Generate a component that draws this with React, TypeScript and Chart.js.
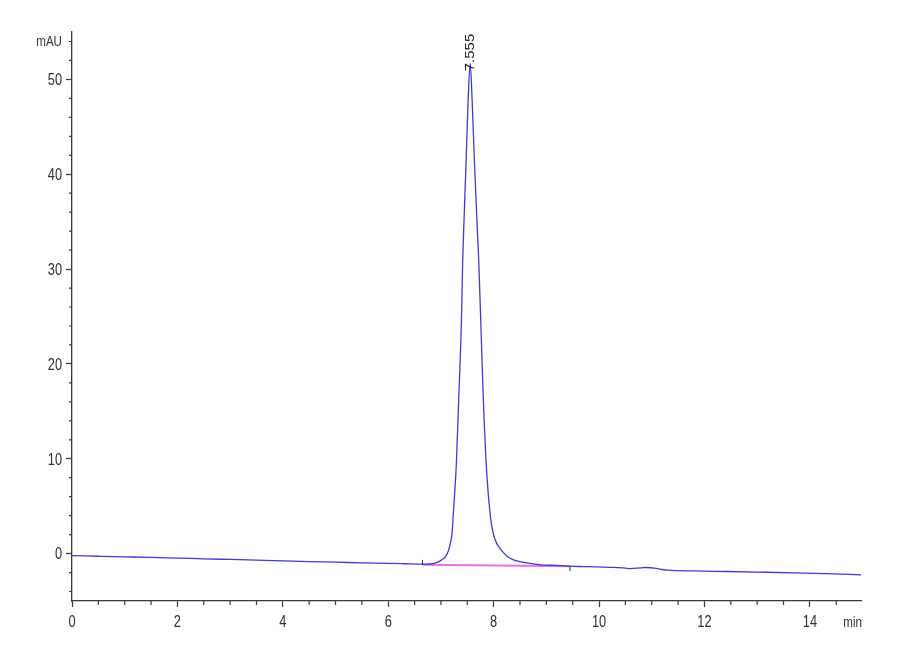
import React, { useRef, useEffect } from 'react';
import { Chart, type ChartConfiguration, type Plugin, registerables } from 'chart.js';

Chart.register(...registerables);

// Retention time (min) and detector signal (mAU)
const retentionTimes = [
  0.0, 0.5, 1.0, 1.5, 2.0, 2.5, 3.0, 3.5, 4.0, 4.5, 5.0, 5.5, 6.0, 6.3, 6.64, 6.8,
  6.9, 6.97, 7.03, 7.085, 7.148, 7.18, 7.212, 7.231, 7.26, 7.29, 7.337, 7.389, 7.413,
  7.44, 7.478, 7.516, 7.555, 7.592, 7.635, 7.68, 7.717, 7.755, 7.805, 7.862, 7.939,
  7.99, 8.053, 8.12, 8.191, 8.26, 8.375, 8.5, 8.635, 8.89, 9.1, 9.27, 9.45, 9.7,
  9.91, 10.2, 10.5, 10.58, 10.66, 10.8, 10.92, 11.05, 11.2, 11.3, 11.8, 12.44, 13.0,
  13.7, 14.3, 14.97
];
const signalMAU = [
  -0.22, -0.28, -0.34, -0.4, -0.47, -0.55, -0.62, -0.69, -0.77, -0.85, -0.91, -0.98,
  -1.03, -1.07, -1.12, -1.1, -0.98, -0.82, -0.6, -0.32, 0.39, 1.13, 2.18, 3.89, 6.3,
  9.16, 16.2, 24.6, 30.9, 35.5, 41.4, 47.8, 51.7, 47.8, 41.4, 35.5, 30.9, 24.6, 16.2,
  9.16, 3.89, 2.18, 1.13, 0.55, 0.07, -0.3, -0.66, -0.85, -0.98, -1.19, -1.23, -1.27,
  -1.33, -1.37, -1.4, -1.45, -1.53, -1.59, -1.55, -1.5, -1.47, -1.53, -1.68, -1.75,
  -1.83, -1.89, -1.95, -2.03, -2.12, -2.24
];

// Integration baseline (start / end of the integrated peak)
const integrationTimes = [6.65, 9.45];
const integrationLevels = [-1.19, -1.33];

// Peak annotation
const peakTimes = [7.555];
const peakHeights = [51.7];
const peakLabels = ['7.555'];

// Axis ticks
const xMajorTicks = [0, 2, 4, 6, 8, 10, 12, 14];
const xTickLabels = ['0', '2', '4', '6', '8', '10', '12', '14'];
const xMinorTicks = [
  0.5, 1, 1.5, 2.5, 3, 3.5, 4.5, 5, 5.5, 6.5, 7, 7.5, 8.5, 9, 9.5, 10.5, 11, 11.5,
  12.5, 13, 13.5, 14.5
];
const yMajorTicks = [0, 10, 20, 30, 40, 50];
const yTickLabels = ['0', '10', '20', '30', '40', '50'];
const yMinorTicks = [
  -4, -2, 2, 4, 6, 8, 12, 14, 16, 18, 22, 24, 26, 28, 32, 34, 36, 38, 42, 44, 46, 48,
  52, 54
];
const xUnit = 'min';
const yUnit = 'mAU';

const axisColor = '#3a3a3a';
const textColor = '#303030';
const fontFamily = '"Liberation Sans", Arial, sans-serif';
// the reference text is drawn squeezed sideways
const squeeze = 0.8;

const drawSqueezed = (
  ctx: CanvasRenderingContext2D,
  text: string,
  x: number,
  y: number,
  align: CanvasTextAlign
) => {
  ctx.save();
  ctx.translate(x, y);
  ctx.scale(squeeze, 1);
  ctx.textAlign = align;
  ctx.fillText(text, 0, 0);
  ctx.restore();
};

const annotationPlugin: Plugin<'line'> = {
  id: 'chromAnnotations',
  afterDraw(chart) {
    const { ctx } = chart;
    const x = chart.scales.x;
    const y = chart.scales.y;
    ctx.save();

    // minor ticks
    ctx.strokeStyle = axisColor;
    ctx.lineWidth = 1.2;
    ctx.beginPath();
    xMinorTicks.forEach((v) => {
      const px = x.getPixelForValue(v);
      ctx.moveTo(px, y.bottom);
      ctx.lineTo(px, y.bottom + 4);
    });
    yMinorTicks.forEach((v) => {
      const py = y.getPixelForValue(v);
      ctx.moveTo(x.left, py);
      ctx.lineTo(x.left - 3, py);
    });
    ctx.stroke();

    // integration event marks: start points up, end points down
    ctx.lineWidth = 1;
    ctx.beginPath();
    integrationTimes.forEach((t, i) => {
      const px = x.getPixelForValue(t);
      const py = y.getPixelForValue(integrationLevels[i]);
      const dir = i === 0 ? -1 : 1;
      ctx.moveTo(px, py);
      ctx.lineTo(px, py + dir * 5);
    });
    ctx.stroke();

    // tick labels
    ctx.fillStyle = textColor;
    ctx.font = `16px ${fontFamily}`;
    ctx.textBaseline = 'alphabetic';
    xMajorTicks.forEach((v, i) => {
      drawSqueezed(ctx, xTickLabels[i], x.getPixelForValue(v), y.bottom + 26, 'center');
    });
    yMajorTicks.forEach((v, i) => {
      drawSqueezed(ctx, yTickLabels[i], x.left - 10, y.getPixelForValue(v) + 5.8, 'right');
    });

    // unit labels
    ctx.font = `14.5px ${fontFamily}`;
    drawSqueezed(ctx, yUnit, x.left - 10, y.getPixelForValue(54) + 5, 'right');
    drawSqueezed(ctx, xUnit, x.right + 1, y.bottom + 26, 'right');

    // peak retention time labels, rotated
    ctx.fillStyle = '#222';
    ctx.font = `15px ${fontFamily}`;
    ctx.textAlign = 'left';
    ctx.textBaseline = 'middle';
    peakTimes.forEach((t, i) => {
      const px = x.getPixelForValue(t);
      const py = y.getPixelForValue(peakHeights[i]) + 8;
      ctx.save();
      ctx.translate(px, py);
      ctx.scale(0.8, 1);
      ctx.rotate(-Math.PI / 2);
      ctx.fillText(peakLabels[i], 0, 0);
      ctx.restore();
    });

    ctx.restore();
  }
};

const Chromatogram: React.FC = () => {
  const canvasRef = useRef<HTMLCanvasElement>(null);

  useEffect(() => {
    document.body.style.margin = '0';
    if (!canvasRef.current) return;

    const config: ChartConfiguration<'line'> = {
      type: 'line',
      data: {
        datasets: [
          {
            data: retentionTimes.map((t, i) => ({ x: t, y: signalMAU[i] })),
            borderColor: '#3b3bd6',
            borderWidth: 1.3,
            pointRadius: 0,
            cubicInterpolationMode: 'monotone',
            order: 0
          },
          {
            data: integrationTimes.map((t, i) => ({ x: t, y: integrationLevels[i] })),
            borderColor: 'rgba(240, 90, 235, 0.9)',
            borderWidth: 2,
            pointRadius: 0,
            order: 1
          }
        ]
      },
      options: {
        responsive: true,
        maintainAspectRatio: false,
        animation: false,
        layout: { padding: { top: 32, right: 39, left: 0, bottom: 0 } },
        plugins: {
          legend: { display: false },
          tooltip: { enabled: false }
        },
        scales: {
          x: {
            type: 'linear',
            min: 0,
            max: 14.97,
            afterBuildTicks: (scale) => {
              scale.ticks = xMajorTicks.map((value) => ({ value }));
            },
            afterFit: (scale) => {
              scale.height = 59;
            },
            ticks: { display: false, autoSkip: false },
            grid: {
              drawOnChartArea: false,
              drawTicks: true,
              tickLength: 6,
              tickColor: axisColor,
              tickWidth: 1.2
            },
            border: { color: axisColor, width: 1.3 }
          },
          y: {
            type: 'linear',
            min: -5,
            max: 55,
            afterBuildTicks: (scale) => {
              scale.ticks = yMajorTicks.map((value) => ({ value }));
            },
            afterFit: (scale) => {
              scale.width = 72;
            },
            ticks: { display: false, autoSkip: false },
            grid: {
              drawOnChartArea: false,
              drawTicks: true,
              tickLength: 6,
              tickColor: axisColor,
              tickWidth: 1.2
            },
            border: { color: axisColor, width: 1.3 }
          }
        }
      },
      plugins: [annotationPlugin]
    };

    const chart = new Chart(canvasRef.current, config);
    return () => chart.destroy();
  }, []);

  return (
    <div style={{ position: 'relative', width: 900, height: 660, background: '#fff' }}>
      <canvas ref={canvasRef} />
    </div>
  );
};

export default function App() {
  return <Chromatogram />;
}
